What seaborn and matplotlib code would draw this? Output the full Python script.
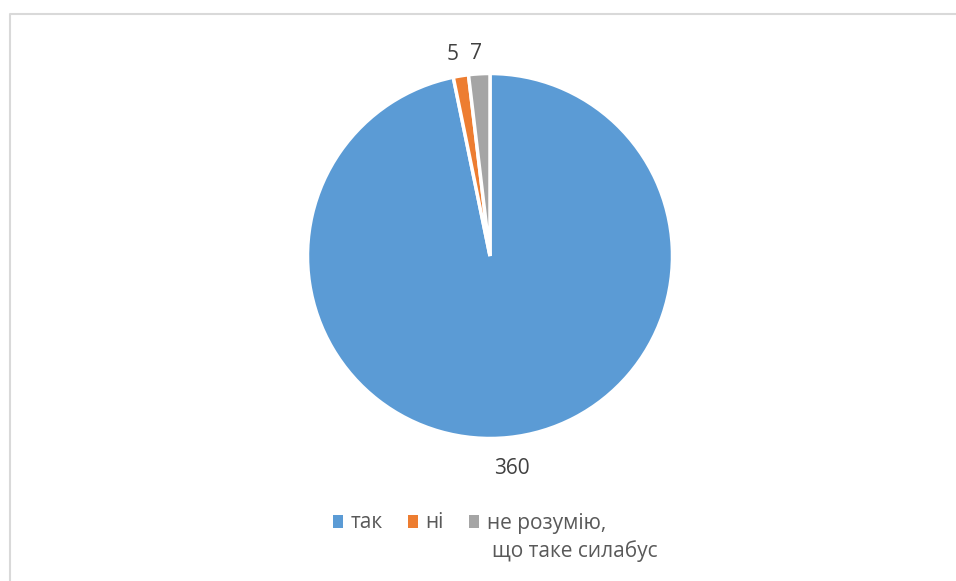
# pie chart: чи знаєте ви, що таке силабус

import matplotlib
matplotlib.use('Agg')
import matplotlib.pyplot as plt
import seaborn as sns
import numpy as np
from matplotlib.lines import Line2D

answers = ['так', 'ні', 'не розумію,\nщо таке силабус']
counts = [360, 5, 7]
colors = ['#5B9BD5', '#ED7D31', '#A5A5A5']

sns.set_theme(style='white')
plt.rcParams['font.family'] = ['Open Sans', 'DejaVu Sans']

fig = plt.figure(figsize=(9.56, 5.81), dpi=100)
W, H = 956, 581
# pie centre (490, 256) px, radius ~182 px -> axes 1.25 * radius each side
half = 182.5 * 1.25
ax = fig.add_axes([(490 - half) / W, (H - 256 - half) / H, 2 * half / W, 2 * half / H])

total = sum(counts)
wedges, texts, autotexts = ax.pie(
    counts, colors=colors, startangle=90, counterclock=False,
    wedgeprops=dict(edgecolor='white', linewidth=2.5),
    autopct=lambda p: f'{round(p * total / 100)}', pctdistance=1.16,
    textprops=dict(fontsize=15, color='#404040'))
ax.set_aspect('equal')

# outside-end data labels, a bit like excel places them
label_dist = [1.17, 1.12, 1.11]
label_nudge = [0.0, -0.025, -0.01]
for w, t, d, n in zip(wedges, autotexts, label_dist, label_nudge):
    a = np.deg2rad((w.theta1 + w.theta2) / 2)
    t.set_position((d * np.cos(a) + n, d * np.sin(a)))

leg_labels = [a.split('\n')[0] for a in answers]
leg = fig.legend(wedges, leg_labels, loc='center left', bbox_to_anchor=(333 / W, 1 - 523 / H),
                 ncol=3, frameon=False, fontsize=15, handlelength=0.5, handleheight=0.6,
                 handletextpad=0.35, columnspacing=1.2, labelcolor='#595959',
                 borderpad=0, borderaxespad=0)
for h in leg.legend_handles:
    h.set_edgecolor('none')

# second line of the wrapped legend entry hangs under the first one
fig.canvas.draw()
bb = leg.get_texts()[2].get_window_extent()
fig.text(bb.x0 / W + 5 / W, bb.y0 / H - 29 / H, answers[2].split('\n')[1],
         fontsize=15, color='#595959', ha='left', va='bottom')

# chart border (left and top only visible)
fig.add_artist(Line2D([9.5 / W, 9.5 / W, 1], [0, 1 - 13.5 / H, 1 - 13.5 / H],
                      transform=fig.transFigure, color='#D9D9D9', linewidth=1.5))

fig.savefig('out.png', dpi=100)
